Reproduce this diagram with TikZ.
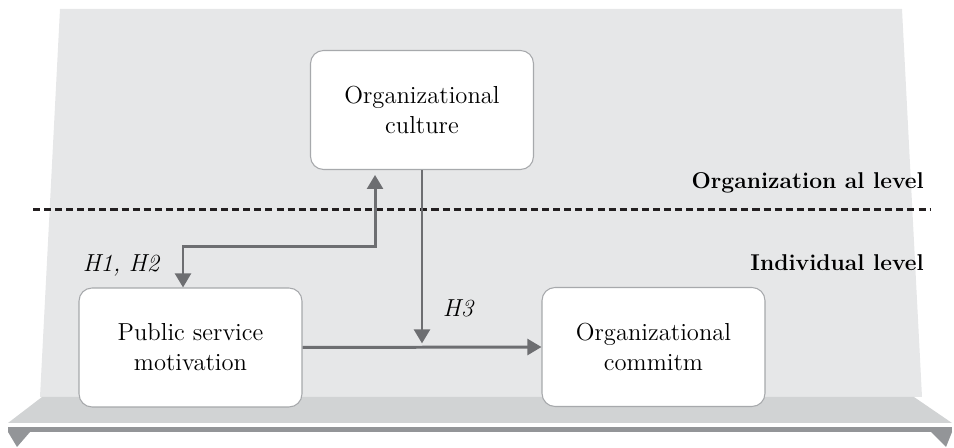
\documentclass[tikz,border=0pt]{standalone}
\usetikzlibrary{arrows.meta}

\definecolor{panelgray}{HTML}{E6E7E8}
\definecolor{shelfgray}{HTML}{D1D3D4}
\definecolor{bargray}{HTML}{939598}
\definecolor{boxline}{HTML}{A7A9AC}
\definecolor{linkgray}{HTML}{6D6E71}
\definecolor{dashblack}{HTML}{231F20}

\begin{document}
\begin{tikzpicture}[x=0.02cm, y=-0.02cm,
	box/.style = {draw=boxline, fill=white,
		line width=0.6pt,
		rounded corners=0.26cm,
		minimum width=4.46cm,
		minimum height=2.38cm,
		align=center,
		font=\fontsize{14}{17}\selectfont},
	link/.style = {draw=linkgray, line width=1.7pt,
		-{Triangle[length=8pt,width=9pt]}},
	level/.style = {anchor=east, font=\fontsize{13}{15}\selectfont\bfseries},
	hyp/.style = {font=\fontsize{14}{16}\selectfont\itshape}]

	\useasboundingbox (0,0) rectangle (954,448);

	% panel and shelf
	\fill[panelgray] (60,9) -- (902,9) -- (922,397) -- (40,397) -- cycle;
	\fill[shelfgray] (42,397) -- (914,397) -- (952,423) -- (8,423) -- cycle;
	\fill[bargray] (8,427) rectangle (952,432);
	\fill[bargray] (8,432) -- (30,432) -- (17,447) -- cycle;
	\fill[bargray] (931,432) -- (952,432) -- (946,447) -- cycle;

	\draw[dashblack, line width=1.7pt, dash pattern=on 4pt off 2.3pt] (33,210) -- (930,210);

	\node[box] (culture) at (422,110) {Organizational\\culture};
	\node[box] (psm) at (190.5,347.5) {Public service\\motivation};
	\node[box] (commit) at (653.5,347) {Organizational\\commitm};

	\coordinate (meet) at (culture.south |- psm.east);

	\draw[link] (psm.east) -- (commit.west);
	\draw[link, shorten >=2.3pt] (culture.south) -- (meet);
	\draw[link, {Triangle[length=8pt,width=9pt]}-{Triangle[length=8pt,width=9pt]}, shorten <=2.8pt]
		([xshift=-0.94cm]culture.south) -- ++(0,76) -| ([xshift=-0.15cm]psm.north);

	\node[level] (orglevel) at (930,183) {Organization al level};
	\node[level] (indlevel) at (930,263) {Individual level};
	\node[hyp] (h12) at (121,265) {H1, H2};
	\node[hyp] (h3) at (458,308) {H3};

\end{tikzpicture}
\end{document}
